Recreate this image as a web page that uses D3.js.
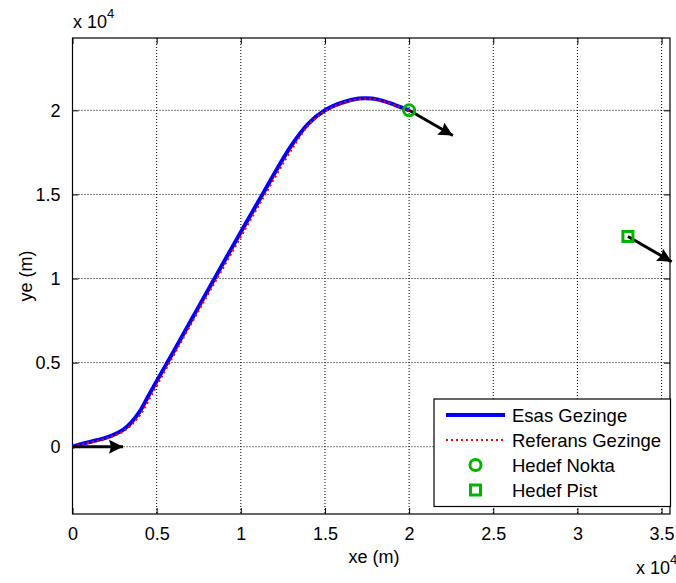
<!DOCTYPE html>
<html><head><meta charset="utf-8">
<script src="https://cdn.jsdelivr.net/npm/d3@7"></script>
<style>body{margin:0;background:#fff}svg{display:block}text{font-family:"Liberation Sans",Arial,sans-serif;fill:#000}</style>
</head><body>
<svg id="c" width="676" height="583"></svg>
<script>
// data in meters
const esasX = [0,600,1500,2300,3000,3500,4000,4500,5000,6000,7400,9000,11000,13000,14000,15000,16000,17000,17800,18500,19200,20000];
const esasY = [0,180,400,650,1000,1450,2100,3000,3900,5650,8150,11000,14500,17900,19200,20000,20450,20700,20700,20550,20300,20000];
const refX  = [0,600,1500,2300,3000,3600,4100,4600,5100,6100,7500,9100,11100,13100,14100,15100,16100,17100,17800,18500,19200,20000];
const refY  = [0,150,350,600,900,1400,2000,2900,3800,5600,8100,10900,14400,17800,19200,20000,20450,20680,20680,20530,20280,20000];
const xTicks = [0,5000,10000,15000,20000,25000,30000,35000];
const yTicks = [0,5000,10000,15000,20000];
const xTickLabels = ["0","0.5","1","1.5","2","2.5","3","3.5"];
const yTickLabels = ["0","0.5","1","1.5","2"];
const hedefNokta = [20000,20000];
const hedefPist = [33000,12500];
// arrows: start x, start y, dx, dy
const arrows = [[0,0,3000,0],[20000,20000,2600,-1500],[33000,12500,2600,-1500]];
const legendLabels = ["Esas Gezinge","Referans Gezinge","Hedef Nokta","Hedef Pist"];

const svg = d3.select("#c");
const L=72.5, R=670, T=38, B=514;
const x = d3.scaleLinear().domain([0,35500]).range([L,R]);
const y = d3.scaleLinear().domain([-4000,24300]).range([B,T]);
const green="#00b400";

// grid
const g = svg.append("g");
g.selectAll(".gx").data(xTicks).enter().append("line")
 .attr("x1",d=>x(d)).attr("x2",d=>x(d)).attr("y1",T).attr("y2",B)
 .attr("stroke","#000").attr("stroke-width",1).attr("stroke-dasharray","1,2");
g.selectAll(".gy").data(yTicks).enter().append("line")
 .attr("y1",d=>y(d)).attr("y2",d=>y(d)).attr("x1",L).attr("x2",R)
 .attr("stroke","#000").attr("stroke-width",1).attr("stroke-dasharray","1,2");

// axes
const fs=18;
const ax = d3.axisBottom(x).tickValues(xTicks).tickFormat((d,i)=>xTickLabels[i]).tickSizeInner(-6).tickSizeOuter(0).tickPadding(13);
const axG = svg.append("g").attr("transform",`translate(0,${B})`).call(ax);
const ay = d3.axisLeft(y).tickValues(yTicks).tickFormat((d,i)=>yTickLabels[i]).tickSizeInner(-6).tickSizeOuter(0).tickPadding(12);
const ayG = svg.append("g").attr("transform",`translate(${L},0)`).call(ay);
const axT = svg.append("g").attr("transform",`translate(0,${T})`).call(d3.axisTop(x).tickValues(xTicks).tickFormat("").tickSizeInner(-6).tickSizeOuter(0));
const ayR = svg.append("g").attr("transform",`translate(${R},0)`).call(d3.axisRight(y).tickValues(yTicks).tickFormat("").tickSizeInner(-6).tickSizeOuter(0));
[axG,ayG,axT,ayR].forEach(a=>{a.select(".domain").remove();a.selectAll("line").attr("stroke","#000");a.selectAll("text").attr("font-size",fs).attr("font-family","Liberation Sans, Arial, sans-serif").attr("fill","#000");});
svg.append("rect").attr("x",L).attr("y",T).attr("width",R-L).attr("height",B-T).attr("fill","none").attr("stroke","#000").attr("stroke-width",1.2);

// exponent labels
const e1 = svg.append("text").attr("x",73).attr("y",28).attr("font-size",fs);
e1.append("tspan").text("x 10");
e1.append("tspan").attr("dy",-10).attr("font-size",13).text("4");
const e2 = svg.append("text").attr("x",636).attr("y",574).attr("font-size",fs);
e2.append("tspan").text("x 10");
e2.append("tspan").attr("dy",-10).attr("font-size",13).text("4");

// axis labels
svg.append("text").attr("x",374).attr("y",563).attr("text-anchor","middle").attr("font-size",fs).text("xe (m)");
svg.append("text").attr("transform","translate(32,276) rotate(-90)").attr("text-anchor","middle").attr("font-size",fs).text("ye (m)");

// curves
const line = d3.line().x(d=>x(d[0])).y(d=>y(d[1])).curve(d3.curveCatmullRom.alpha(0.5));
const esas = esasX.map((v,i)=>[v,esasY[i]]);
const ref = refX.map((v,i)=>[v,refY[i]]);
svg.append("path").attr("d",line(esas)).attr("fill","none").attr("stroke","#0000ff").attr("stroke-width",4);
svg.append("path").attr("d",line(ref)).attr("fill","none").attr("stroke","#ff0000").attr("stroke-width",2.2).attr("stroke-dasharray","2,3");

// arrows
const defs = svg.append("defs");
defs.append("marker").attr("id","ah").attr("viewBox","0 0 10 10").attr("refX",10).attr("refY",5)
 .attr("markerWidth",21).attr("markerHeight",14).attr("markerUnits","userSpaceOnUse").attr("orient","auto")
 .append("path").attr("d","M0,0 L10,5 L0,10 L1.5,5 Z").attr("fill","#000");
svg.selectAll(".arr").data(arrows).enter().append("line")
 .attr("x1",d=>x(d[0])).attr("y1",d=>y(d[1])).attr("x2",d=>x(d[0]+d[2])).attr("y2",d=>y(d[1]+d[3]))
 .attr("stroke","#000").attr("stroke-width",3).attr("marker-end","url(#ah)");

// markers
svg.append("circle").attr("cx",x(hedefNokta[0])).attr("cy",y(hedefNokta[1])).attr("r",5.5).attr("fill","none").attr("stroke",green).attr("stroke-width",3);
svg.append("rect").attr("x",x(hedefPist[0])-5).attr("y",y(hedefPist[1])-5).attr("width",10).attr("height",10).attr("fill","none").attr("stroke",green).attr("stroke-width",3);

// legend
const lg = svg.append("g");
lg.append("rect").attr("x",434).attr("y",399).attr("width",236.5).attr("height",107.5).attr("fill","#fff").attr("stroke","#000").attr("stroke-width",1.2);
const rows=[415,440,465,490];
lg.append("line").attr("x1",446).attr("x2",505).attr("y1",rows[0]).attr("y2",rows[0]).attr("stroke","#0000ff").attr("stroke-width",4);
lg.append("line").attr("x1",446).attr("x2",505).attr("y1",rows[1]).attr("y2",rows[1]).attr("stroke","#ff0000").attr("stroke-width",2.2).attr("stroke-dasharray","2,3");
lg.append("circle").attr("cx",475.5).attr("cy",rows[2]).attr("r",5.5).attr("fill","none").attr("stroke",green).attr("stroke-width",3);
lg.append("rect").attr("x",470.5).attr("y",rows[3]-5).attr("width",10).attr("height",10).attr("fill","none").attr("stroke",green).attr("stroke-width",3);
lg.selectAll(".lt").data(legendLabels).enter().append("text").attr("x",512).attr("y",(d,i)=>rows[i]).attr("dy","0.36em").attr("font-size",18.5).text(d=>d);
</script>
</body></html>
